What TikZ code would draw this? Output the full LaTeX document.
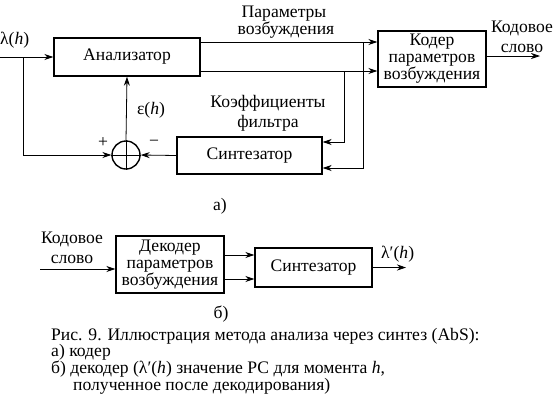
\documentclass[tikz,border=0pt]{standalone}
\usepackage{fontspec}
\setmainfont{Liberation Serif}
\usetikzlibrary{arrows.meta}
\newcommand{\apos}{′}
\begin{document}
\begin{tikzpicture}[x=1pt,y=-1pt,
  blk/.style={draw,line width=1.4pt,inner sep=0pt},
  lbl/.style={inner sep=0pt,anchor=base},
  captext/.style={inner sep=0pt,anchor=base west,text height=12pt,text depth=3pt},
  ln/.style={line width=0.8pt},
  arr/.style={ln,-{Stealth[length=9pt,width=6pt]}}]
\useasboundingbox (0,0) rectangle (556,410);
\tikzset{every node/.append style={font=\fontsize{17.6}{17}\selectfont}}
% part a
\node[blk,minimum width=146pt,minimum height=38pt] (an) at (127,57) {Анализатор};
\node[blk,minimum width=108pt,minimum height=56pt,align=center] (cod) at (432,59) {Кодер\\параметров\\возбуждения};
\node[blk,minimum width=145pt,minimum height=37pt] (syn) at (249.5,155.5) {Синтезатор};
\node[draw,circle,line width=1.4pt,minimum size=28pt,inner sep=0pt] (sum) at (126,155) {};
\draw[line width=1pt] (sum.north) -- (sum.south) (sum.west) -- (sum.east);
\coordinate (in) at (0,57);
\coordinate (br) at (23,57);
\coordinate (out) at (540,56);
\coordinate (x1) at (363,42);
\coordinate (x2) at (344,71);
\node[lbl,anchor=base west] (lam) at (0,44) {λ(\textit{h})};
\draw[arr] (in) -- (an.west);
\draw[arr] (br) |- (sum.west);
\draw[arr] (sum.north) -- (an.south);
\node[lbl] (eps) at (151,114) {ε(\textit{h})};
\node[inner sep=0pt] (plus) at (103,143) {+};
\node[inner sep=0pt] (minus) at (154,143) {−};
\draw[arr] (syn.west) -- (sum.east);
\draw[arr] (an.east |- x1) -- (cod.west |- x1);
\draw[arr] (an.east |- x2) -- (cod.west |- x2);
\draw[arr] (x1) |- (syn.east |- 0,168);
\draw[arr] (x2) |- (syn.east |- 0,142);
\draw[arr] (cod.east |- out) -- (out);
\node[lbl] (par1) at (284,17) {Параметры};
\node[lbl] (par2) at (286,34) {возбуждения};
\node[lbl] (kw1) at (522,32) {Кодовое};
\node[lbl] (kw2) at (522,52) {слово};
\node[lbl] (koef1) at (268,107) {Коэффициенты};
\node[lbl] (koef2) at (268,127) {фильтра};
\node[lbl] (la) at (220,210) {а)};
% part b
\node[blk,minimum width=108pt,minimum height=57pt,align=center] (dec) at (170,264.5) {Декодер\\параметров\\возбуждения};
\node[blk,minimum width=117pt,minimum height=39pt] (syn2) at (313.5,267.5) {Синтезатор};
\coordinate (in2) at (40,269);
\coordinate (out2) at (406,267.5);
\draw[arr] (in2) -- (dec.west |- in2);
\node[lbl] (kwb1) at (72,243) {Кодовое};
\node[lbl] (kwb2) at (72,263) {слово};
\draw[arr] (dec.east |- 0,255) -- (syn2.west |- 0,255);
\draw[arr] (dec.east |- 0,279) -- (syn2.west |- 0,279);
\draw[arr] (syn2.east) -- (out2);
\node[lbl,anchor=base west] (lam2) at (381,258) {λ\apos(\textit{h})};
\node[lbl] (lb) at (221,318) {б)};
% caption
\node[captext] (c1) at (51,340) {Рис. 9. Иллюстрация метода анализа через синтез (AbS):};
\node[captext] (c2) at (51,356) {а) кодер};
\node[captext] (c3) at (51,373) {б) декодер (λ\apos(\textit{h}) значение РС для момента \textit{h},};
\node[captext] (c4) at (73,390) {полученное после декодирования)};
\end{tikzpicture}
\end{document}
